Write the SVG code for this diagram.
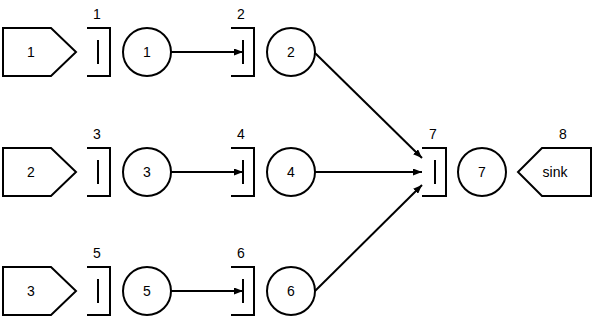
<svg xmlns="http://www.w3.org/2000/svg" width="594" height="319" viewBox="0 0 594 319">
<style>
.s{fill:none;stroke:#000;stroke-width:2}
.w{fill:#fff;stroke:#000;stroke-width:2}
text{font-family:"Liberation Sans",Arial,sans-serif;font-size:14px;fill:#000;text-anchor:middle}
.c{stroke:#000;stroke-width:2;fill:none}
</style>
<defs>
<marker id="ah" viewBox="0 0 9 7" refX="9" refY="3.5" markerWidth="9" markerHeight="7" markerUnits="userSpaceOnUse" orient="auto">
<path d="M0,0 L9,3.5 L0,7 Z" fill="#000"/>
</marker>
</defs>
<rect width="594" height="319" fill="#fff"/>
<g id="connectors">
<line class="c" x1="171" y1="52" x2="243" y2="52" marker-end="url(#ah)"/>
<line class="c" x1="171" y1="172" x2="243" y2="172" marker-end="url(#ah)"/>
<line class="c" x1="171" y1="291" x2="243" y2="291" marker-end="url(#ah)"/>
<line class="c" x1="315" y1="53" x2="422" y2="158" marker-end="url(#ah)"/>
<line class="c" x1="315" y1="172" x2="422" y2="172" marker-end="url(#ah)"/>
<line class="c" x1="315" y1="291" x2="422" y2="185" marker-end="url(#ah)"/>
</g>
<g id="source1"><path class="w" d="M3,28 H51 L76,52 L51,76 H3 Z"/><text x="31" y="57">1</text></g>
<g id="source2"><path class="w" d="M3,148 H51 L76,172 L51,196 H3 Z"/><text x="31" y="177">2</text></g>
<g id="source3"><path class="w" d="M3,267 H51 L76,291 L51,315 H3 Z"/><text x="31" y="296">3</text></g>
<g id="queue1"><path class="s" d="M87,28 H110 V76 H87 M98,40 V64"/><text x="97" y="19">1</text></g>
<g id="queue3"><path class="s" d="M87,148 H110 V196 H87 M98,160 V184"/><text x="97" y="139">3</text></g>
<g id="queue5"><path class="s" d="M87,267 H110 V315 H87 M98,279 V303"/><text x="97" y="258">5</text></g>
<g id="server1"><circle class="w" cx="147" cy="52" r="24"/><text x="147" y="57">1</text></g>
<g id="server3"><circle class="w" cx="147" cy="172" r="24"/><text x="147" y="177">3</text></g>
<g id="server5"><circle class="w" cx="147" cy="291" r="24"/><text x="147" y="296">5</text></g>
<g id="queue2"><path class="s" d="M231,28 H254 V76 H231 M243,40 V64"/><text x="241" y="19">2</text></g>
<g id="queue4"><path class="s" d="M231,148 H254 V196 H231 M243,160 V184"/><text x="241" y="139">4</text></g>
<g id="queue6"><path class="s" d="M231,267 H254 V315 H231 M243,279 V303"/><text x="241" y="258">6</text></g>
<g id="server2"><circle class="w" cx="291" cy="52" r="24"/><text x="291" y="57">2</text></g>
<g id="server4"><circle class="w" cx="291" cy="172" r="24"/><text x="291" y="177">4</text></g>
<g id="server6"><circle class="w" cx="291" cy="291" r="24"/><text x="291" y="296">6</text></g>
<g id="queue7"><path class="s" d="M422,148 H446 V196 H422 M435,160 V184"/><text x="433" y="139">7</text></g>
<g id="server7"><circle class="w" cx="482" cy="172" r="24"/><text x="482" y="177">7</text></g>
<g id="sink"><path class="w" d="M591,148 H542 L518,172 L542,196 H591 Z"/><text x="555" y="177">sink</text><text x="563" y="139">8</text></g>
</svg>
